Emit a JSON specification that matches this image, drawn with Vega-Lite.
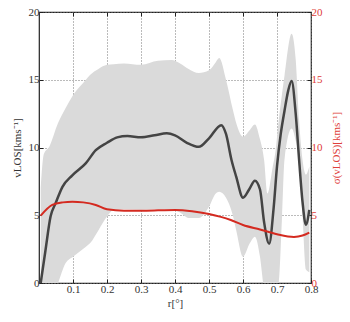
{
  "$schema": "https://vega.github.io/schema/vega-lite/v6.json",
  "width": 272,
  "height": 271,
  "autosize": {"type": "none"},
  "padding": {"left": 39, "top": 12, "right": 39, "bottom": 39},
  "config": {
    "view": {"stroke": "#222", "strokeWidth": 1.2},
    "font": "Liberation Serif",
    "axis": {
      "labelFont": "Liberation Serif",
      "titleFont": "Liberation Serif",
      "labelFontSize": 11,
      "titleFontSize": 11,
      "titleFontWeight": "normal",
      "labelColor": "#333",
      "titleColor": "#333",
      "tickColor": "#222",
      "domain": false,
      "gridColor": "#777",
      "gridDash": [1, 2],
      "gridWidth": 1,
      "labelOverlap": false,
      "labelPadding": 4,
      "tickSize": -4,
      "zindex": 1
    },
    "axisBottom": {"labelFlush": false, "titlePadding": 3},
    "axisLeft": {"titlePadding": 6},
    "axisRight": {"labelColor": "#e0403a", "titleColor": "#e0403a", "titlePadding": 19}
  },
  "datasets": {
    "band": [
      {"r": 0.005, "hi": 7.0, "lo": -3.0},
      {"r": 0.014, "hi": 9.5, "lo": -2.5},
      {"r": 0.031, "hi": 10.1, "lo": -1.5},
      {"r": 0.056, "hi": 11.8, "lo": 0.0},
      {"r": 0.078, "hi": 12.9, "lo": 1.45},
      {"r": 0.1, "hi": 13.85, "lo": 1.94},
      {"r": 0.138, "hi": 15.0, "lo": 2.68},
      {"r": 0.15, "hi": 15.35, "lo": 2.93},
      {"r": 0.175, "hi": 15.8, "lo": 3.9},
      {"r": 0.2, "hi": 16.1, "lo": 4.9},
      {"r": 0.22, "hi": 16.15, "lo": 5.4},
      {"r": 0.25, "hi": 16.2, "lo": 5.45},
      {"r": 0.3, "hi": 16.1, "lo": 5.4},
      {"r": 0.35, "hi": 16.4, "lo": 5.45},
      {"r": 0.39, "hi": 16.45, "lo": 5.45},
      {"r": 0.415, "hi": 16.2, "lo": 5.2},
      {"r": 0.44, "hi": 15.8, "lo": 4.8},
      {"r": 0.47, "hi": 15.5, "lo": 4.8},
      {"r": 0.5, "hi": 15.7, "lo": 5.63},
      {"r": 0.52, "hi": 16.3, "lo": 6.6},
      {"r": 0.53, "hi": 16.6, "lo": 6.74},
      {"r": 0.55, "hi": 15.0, "lo": 6.3},
      {"r": 0.57, "hi": 12.8, "lo": 5.0},
      {"r": 0.58, "hi": 11.8, "lo": 3.9},
      {"r": 0.6, "hi": 10.8, "lo": 1.94},
      {"r": 0.62, "hi": 11.3, "lo": 2.93},
      {"r": 0.635, "hi": 11.7, "lo": 3.42},
      {"r": 0.65, "hi": 10.6, "lo": 1.94},
      {"r": 0.662, "hi": 9.1, "lo": -0.5},
      {"r": 0.672, "hi": 6.6, "lo": -1.5},
      {"r": 0.687, "hi": 8.5, "lo": -1.5},
      {"r": 0.696, "hi": 9.8, "lo": -0.8},
      {"r": 0.705, "hi": 12.0, "lo": 0.0},
      {"r": 0.715, "hi": 14.0, "lo": 5.0},
      {"r": 0.722, "hi": 15.3, "lo": 9.1},
      {"r": 0.743, "hi": 18.4, "lo": 11.4},
      {"r": 0.755, "hi": 16.5, "lo": 10.5},
      {"r": 0.765, "hi": 12.0, "lo": 9.1},
      {"r": 0.775, "hi": 9.1, "lo": 5.0},
      {"r": 0.785, "hi": 8.0, "lo": 1.0},
      {"r": 0.795, "hi": 8.6, "lo": 0.8}
    ],
    "mean": [
      {"r": 0.005, "v": 0.0},
      {"r": 0.019, "v": 2.4},
      {"r": 0.034, "v": 4.9},
      {"r": 0.049, "v": 5.9},
      {"r": 0.069, "v": 7.1},
      {"r": 0.098, "v": 7.95},
      {"r": 0.138, "v": 8.85},
      {"r": 0.167, "v": 9.8},
      {"r": 0.2, "v": 10.35},
      {"r": 0.23, "v": 10.75},
      {"r": 0.26, "v": 10.85},
      {"r": 0.3, "v": 10.75},
      {"r": 0.34, "v": 10.9},
      {"r": 0.376, "v": 11.05},
      {"r": 0.4, "v": 10.9},
      {"r": 0.435, "v": 10.35},
      {"r": 0.47, "v": 10.05},
      {"r": 0.5, "v": 10.68},
      {"r": 0.536, "v": 11.65},
      {"r": 0.55, "v": 11.0},
      {"r": 0.566, "v": 9.1},
      {"r": 0.58, "v": 7.85},
      {"r": 0.6, "v": 6.3},
      {"r": 0.618, "v": 6.9},
      {"r": 0.635, "v": 7.55},
      {"r": 0.65, "v": 6.9},
      {"r": 0.662, "v": 4.5},
      {"r": 0.677, "v": 2.9},
      {"r": 0.69, "v": 5.5},
      {"r": 0.7, "v": 8.6},
      {"r": 0.711, "v": 11.0},
      {"r": 0.722, "v": 12.7},
      {"r": 0.733, "v": 14.2},
      {"r": 0.743, "v": 14.9},
      {"r": 0.755, "v": 12.5},
      {"r": 0.765, "v": 9.1},
      {"r": 0.775, "v": 6.0},
      {"r": 0.785, "v": 4.3},
      {"r": 0.795, "v": 5.4}
    ],
    "sigma": [
      {"r": 0.005, "s": 4.97},
      {"r": 0.039, "s": 5.76},
      {"r": 0.07, "s": 5.95},
      {"r": 0.098, "s": 6.0},
      {"r": 0.13, "s": 5.95},
      {"r": 0.167, "s": 5.76},
      {"r": 0.2, "s": 5.44},
      {"r": 0.25, "s": 5.34},
      {"r": 0.3, "s": 5.34},
      {"r": 0.35, "s": 5.36},
      {"r": 0.4, "s": 5.39},
      {"r": 0.45, "s": 5.3},
      {"r": 0.5, "s": 5.09},
      {"r": 0.564, "s": 4.65},
      {"r": 0.6, "s": 4.28},
      {"r": 0.65, "s": 3.95},
      {"r": 0.7, "s": 3.6},
      {"r": 0.75, "s": 3.4},
      {"r": 0.775, "s": 3.5},
      {"r": 0.795, "s": 3.72}
    ]
  },
  "layer": [
    {
      "layer": [
        {
          "data": {"name": "band"},
          "mark": {"type": "area", "interpolate": "monotone", "color": "#dadada", "opacity": 1, "clip": true},
          "encoding": {
            "x": {
              "field": "r", "type": "quantitative",
              "scale": {"domain": [0, 0.8], "nice": false},
              "axis": {
                "values": [0.1, 0.2, 0.3, 0.4, 0.5, 0.6, 0.7, 0.8], "tickCount": 12,
                "format": ".1f", "grid": true, "title": "r[°]"
              }
            },
            "y": {
              "field": "hi", "type": "quantitative",
              "scale": {"domain": [0, 20]},
              "axis": {"values": [0, 5, 10, 15, 20], "tickCount": 10, "grid": true, "title": "vLOS[kms⁻¹]"}
            },
            "y2": {"field": "lo"}
          }
        },
        {
          "data": {"name": "mean"},
          "mark": {"type": "line", "interpolate": "monotone", "color": "#444444", "strokeWidth": 2.5, "clip": true},
          "encoding": {
            "x": {"field": "r", "type": "quantitative"},
            "y": {"field": "v", "type": "quantitative"}
          }
        }
      ]
    },
    {
      "data": {"name": "sigma"},
      "mark": {"type": "line", "interpolate": "monotone", "color": "#d42a20", "strokeWidth": 2, "clip": true},
      "encoding": {
        "x": {
          "field": "r", "type": "quantitative",
          "axis": {"orient": "top", "labels": false, "grid": false, "title": null, "tickCount": 12,
                   "values": [0.1, 0.2, 0.3, 0.4, 0.5, 0.6, 0.7]}
        },
        "y": {
          "field": "s", "type": "quantitative",
          "scale": {"domain": [0, 20]},
          "axis": {"orient": "right", "values": [0, 5, 10, 15, 20], "tickCount": 10, "grid": false,
                   "title": "σ(vLOS)[kms⁻¹]", "titleAngle": 270}
        }
      }
    }
  ],
  "resolve": {"scale": {"y": "independent"}, "axis": {"x": "independent"}}
}
